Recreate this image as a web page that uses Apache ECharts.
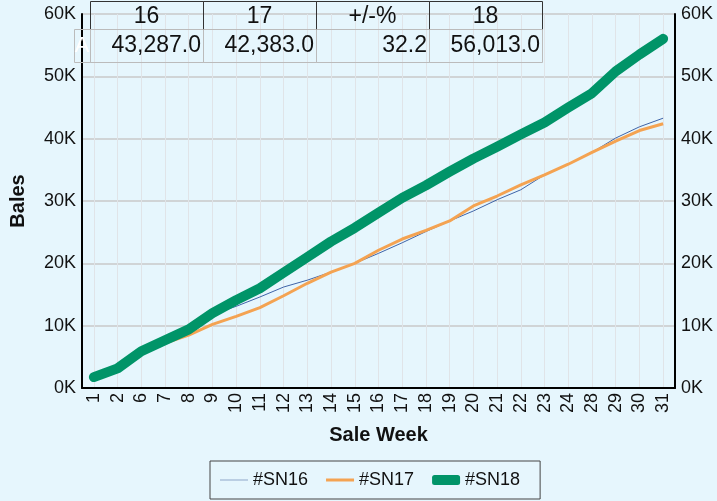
<!DOCTYPE html>
<html>
<head>
<meta charset="utf-8">
<script src="https://cdn.jsdelivr.net/npm/echarts@6/dist/echarts.min.js"></script>
<style>
  html, body { margin: 0; padding: 0; background: #e6f6fd; }
  #chart { width: 717px; height: 501px; }
</style>
</head>
<body>
<div id="chart"></div>
<script>
  // sale weeks shown on the x axis
  const weeks = ['1', '2', '6', '7', '8', '9', '10', '11', '12', '13', '14', '15', '16', '17', '18',
    '19', '20', '21', '22', '23', '24', '28', '29', '30', '31']

  // cumulative bales per season
  const sn16 = [1750, 3150, 5800, 7600, 9300, 11800, 13100, 14600, 16200, 17300, 18600, 20000, 21600,
    23300, 25100, 26800, 28400, 30200, 31800, 34200, 35900, 37800, 40100, 41900, 43287]
  const sn17 = [1700, 3150, 5700, 7200, 8500, 10200, 11500, 12900, 14800, 16800, 18600, 20000, 22100,
    23900, 25300, 26800, 29200, 30800, 32600, 34200, 35900, 37800, 39600, 41300, 42383]
  const sn18 = [1750, 3150, 5900, 7650, 9400, 12000, 14100, 16000, 18500, 21000, 23500, 25700, 28100,
    30500, 32500, 34700, 36800, 38700, 40700, 42600, 45000, 47300, 50800, 53500, 56013]

  // small summary table on top of the chart
  const tableHead = ['16', '17', '+/-%', '18']
  const tableRow = ['43,287.0', '42,383.0', '32.2', '56,013.0']

  const font = 'Liberation Sans, Arial, sans-serif'
  const chart = echarts.init(document.getElementById('chart'), null, { renderer: 'canvas' })

  // table cells
  const colX = 90
  const colW = 113
  const cells = []
  tableHead.forEach((h, i) => {
    cells.push({
      type: 'rect', z: 10,
      shape: { x: colX + i * colW + 0.5, y: 1.5, width: colW, height: 28 },
      style: { fill: 'transparent', stroke: '#333', lineWidth: 1 }
    })
    cells.push({
      type: 'text', z: 11,
      style: { x: colX + i * colW + colW / 2, y: 17, text: h, align: 'center', verticalAlign: 'middle',
        font: '23px ' + font, fill: '#111' }
    })
    cells.push({
      type: 'rect', z: 10,
      shape: { x: colX + i * colW + 0.5, y: 29.5, width: colW, height: 33 },
      style: { fill: 'transparent', stroke: '#bbb', lineWidth: 1 }
    })
    cells.push({
      type: 'text', z: 11,
      style: { x: colX + (i + 1) * colW - 2, y: 46, text: tableRow[i], align: 'right', verticalAlign: 'middle',
        font: '23px ' + font, fill: '#111' }
    })
  })
  cells.push({
    type: 'rect', z: 10,
    shape: { x: 74.5, y: 29.5, width: 16, height: 33 },
    style: { fill: 'transparent', stroke: '#bbb', lineWidth: 1 }
  })
  cells.push({
    type: 'text', z: 11,
    style: { x: 82, y: 46, text: 'A', align: 'center', verticalAlign: 'middle', font: '22px ' + font, fill: '#fff' }
  })

  const yAxisBase = {
    type: 'value',
    min: 0,
    max: 60000,
    interval: 10000,
    axisLine: { show: true, lineStyle: { color: '#000', width: 2 } },
    axisTick: { show: false },
    axisLabel: { formatter: v => (v / 1000) + 'K', fontSize: 18, color: '#111', fontFamily: font, margin: 6 }
  }

  chart.setOption({
    backgroundColor: '#e6f6fd',
    animation: false,
    textStyle: { fontFamily: font },
    grid: { left: 79, right: 42, top: 14, bottom: 113 },
    legend: {
      bottom: 2,
      left: 210,
      itemWidth: 28,
      itemHeight: 10,
      itemGap: 18,
      padding: [10, 20, 10, 10],
      borderColor: '#444',
      borderWidth: 1,
      textStyle: { fontSize: 18, color: '#111', fontFamily: font },
      data: [
        { name: '#SN16', icon: 'path://M0,4.5H28V5.5H0Z' },
        { name: '#SN17', icon: 'path://M0,3.5H28V6.5H0Z' },
        { name: '#SN18', icon: 'roundRect' }
      ]
    },
    xAxis: {
      type: 'category',
      data: weeks,
      name: 'Sale Week',
      nameLocation: 'middle',
      nameGap: 37,
      nameTextStyle: { fontSize: 20, fontWeight: 'bold', color: '#111', fontFamily: font },
      axisLine: { lineStyle: { color: '#000', width: 2 } },
      axisTick: { show: false },
      axisLabel: { rotate: 90, interval: 0, fontSize: 18, color: '#111', fontFamily: font, margin: 5 },
      splitLine: { show: true, alignWithLabel: true, lineStyle: { color: '#e0e4e8', width: 1 } }
    },
    yAxis: [
      Object.assign({}, yAxisBase, {
        position: 'left',
        name: 'Bales',
        nameLocation: 'middle',
        nameGap: 54,
        nameTextStyle: { fontSize: 20, fontWeight: 'bold', color: '#111', fontFamily: font },
        splitLine: { show: true, lineStyle: { color: '#c8c8c8', width: 1.5 } }
      }),
      Object.assign({}, yAxisBase, {
        position: 'right',
        splitLine: { show: false }
      })
    ],
    series: [
      {
        name: '#SN16', type: 'line', data: sn16, symbol: 'none', z: 3,
        lineStyle: { color: '#3f64a8', width: 1 }, itemStyle: { color: '#8fa6c8' }
      },
      {
        name: '#SN17', type: 'line', data: sn17, symbol: 'none', z: 4,
        lineStyle: { color: '#f4a352', width: 3 }, itemStyle: { color: '#f4a352' }
      },
      {
        name: '#SN18', type: 'line', data: sn18, symbol: 'none', z: 5,
        lineStyle: { color: '#009468', width: 10, cap: 'round', join: 'round' }, itemStyle: { color: '#009468' }
      }
    ],
    graphic: cells
  })
</script>
</body>
</html>
